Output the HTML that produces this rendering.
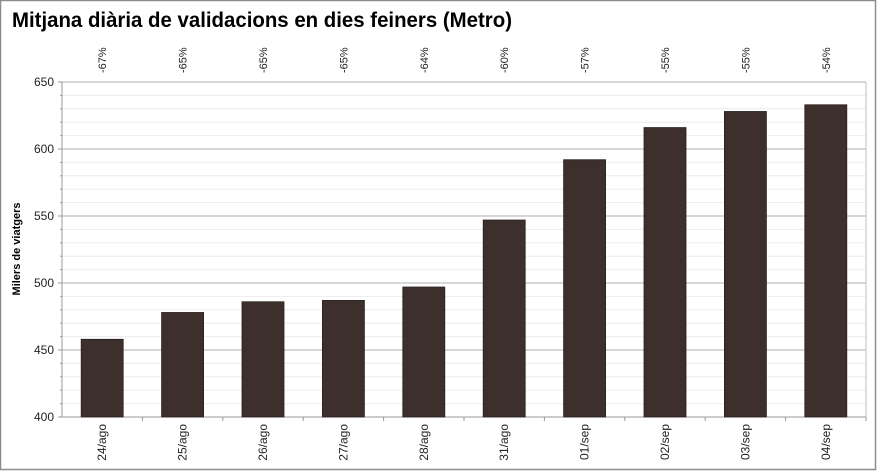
<!DOCTYPE html>
<html><head><meta charset="utf-8"><style>
html,body{margin:0;padding:0;background:#fff;}
svg{display:block;font-family:"Liberation Sans",Arial,sans-serif;}
</style></head><body>
<svg width="877" height="471" viewBox="0 0 877 471" xmlns="http://www.w3.org/2000/svg">
<rect x="0.5" y="0.5" width="875" height="469" fill="#fff" stroke="#8c8c8c" stroke-width="1.5"/>
<text x="12" y="27" font-size="21" font-weight="bold" fill="#000" textLength="500" lengthAdjust="spacingAndGlyphs">Mitjana diària de validacions en dies feiners (Metro)</text>
<g id="grid"></g>
<g id="bars"></g>
<g id="labels"></g>
<text transform="translate(20,249) rotate(-90)" text-anchor="middle" font-size="11" font-weight="bold">Milers de viatgers</text>
<script>
(function(){
var ns="http://www.w3.org/2000/svg";
function el(p,n,a,t){var e=document.createElementNS(ns,n);for(var k in a)e.setAttribute(k,a[k]);if(t!=null)e.textContent=t;p.appendChild(e);return e;}
var g=document.getElementById('grid'),b=document.getElementById('bars'),l=document.getElementById('labels');
var x0=62,x1=866,y0=417,sc=335/250;
function Y(v){return y0-(v-400)*sc;}
for(var v=410;v<650;v+=10){if(v%50)el(g,'line',{x1:x0,x2:x1,y1:Y(v),y2:Y(v),stroke:'#ebebeb','stroke-width':1});}
for(var v=450;v<=650;v+=50){el(g,'line',{x1:x0,x2:x1,y1:Y(v),y2:Y(v),stroke:'#bfbfbf','stroke-width':1.2});}
el(g,'line',{x1:x1,x2:x1,y1:Y(650),y2:y0,stroke:'#bfbfbf','stroke-width':1});
el(g,'line',{x1:x0,x2:x0,y1:Y(650),y2:y0,stroke:'#999','stroke-width':1});
el(g,'line',{x1:x0-4,x2:x1,y1:y0,y2:y0,stroke:'#999','stroke-width':1});
for(var v=400;v<=650;v+=10){el(g,'line',{x1:v%50?x0-2:x0-4,x2:x0,y1:Y(v),y2:Y(v),stroke:'#999','stroke-width':1});}
for(var v=400;v<=650;v+=50){el(l,'text',{x:x0-8,y:Y(v)+4,'text-anchor':'end','font-size':12,fill:'#222'},String(v));}
var vals=[458,478,486,487,497,547,592,616,628,633];
var pct=['-67%','-65%','-65%','-65%','-64%','-60%','-57%','-55%','-55%','-54%'];
var dates=['24/ago','25/ago','26/ago','27/ago','28/ago','31/ago','01/sep','02/sep','03/sep','04/sep'];
var cw=(x1-x0)/10;
for(var i=0;i<10;i++){
 var c=x0+cw*(i+0.5);
 el(g,'line',{x1:x0+cw*(i+1),x2:x0+cw*(i+1),y1:y0,y2:y0+4,stroke:'#999','stroke-width':1});
 el(b,'rect',{x:c-21,y:Y(vals[i]),width:42,height:y0-Y(vals[i]),fill:'#3d302c',stroke:'#2a201d','stroke-width':0.8});
 el(l,'text',{transform:'translate('+(c+4)+',73) rotate(-90)','text-anchor':'start','font-size':11,fill:'#222'},pct[i]);
 el(l,'text',{transform:'translate('+(c+4)+',424) rotate(-90)','text-anchor':'end','font-size':12,fill:'#222'},dates[i]);
}
})();
</script>
</svg>
</body></html>
